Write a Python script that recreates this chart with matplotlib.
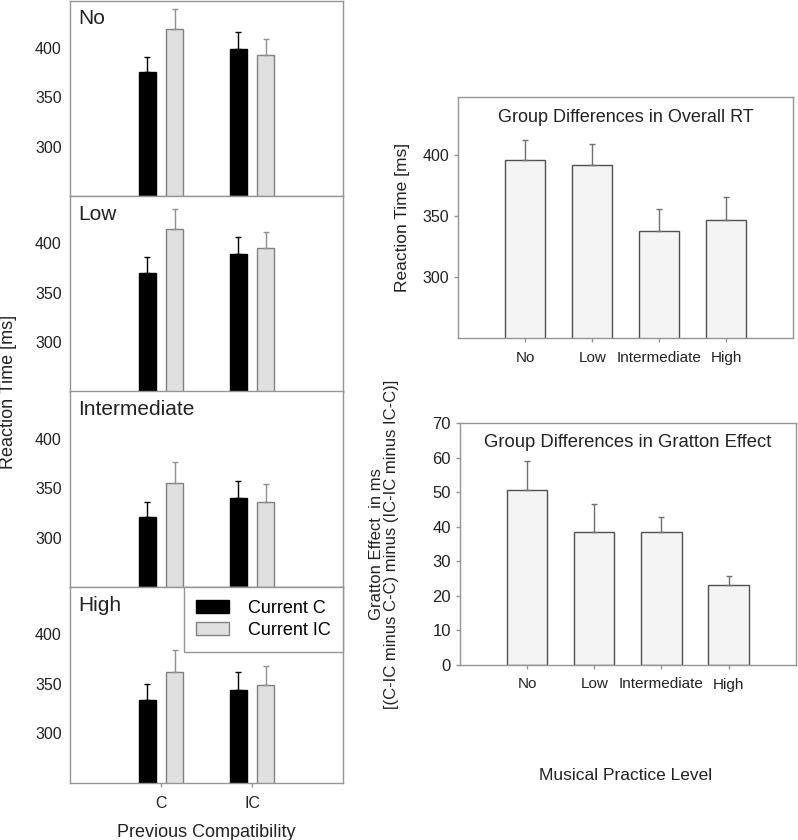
import numpy as np
import matplotlib
matplotlib.use("Agg")
import matplotlib.pyplot as plt

plt.rcParams["font.family"] = ["Liberation Sans", "DejaVu Sans"]

# Left: RT by previous compatibility (C, IC) for each practice group
GROUPS = ["No", "Low", "Intermediate", "High"]
PREV = ["C", "IC"]
CUR_C = [[375, 399], [370, 389], [321, 340], [333.5, 343.5]]
CUR_C_ERR = [[15, 16.5], [15.5, 17.5], [15, 17.5], [16, 18.5]]
CUR_IC = [[419, 392], [414, 394.5], [355.5, 336], [362, 349]]
CUR_IC_ERR = [[19.5, 17], [20.5, 17], [21, 18], [22, 18.5]]

# Right: overall RT and Gratton effect per group
OVERALL_RT = [396.5, 392, 338, 347]
OVERALL_ERR = [16.5, 17.5, 18, 19]
GRATTON = [50.5, 38.4, 38.6, 23.1]
GRATTON_ERR = [8.5, 8.3, 4.1, 2.5]

W, H = 798, 840
SPINE = "#959595"
TXT = "#222222"


def px_axes(fig, x0, y0, x1, y1):
    # pixel box (top-left origin) -> figure axes
    return fig.add_axes([x0 / W, 1 - y1 / H, (x1 - x0) / W, (y1 - y0) / H])


def style(ax, tick_fs=11.5):
    for s in ax.spines.values():
        s.set_color(SPINE)
        s.set_linewidth(1.0)
    ax.tick_params(axis="both", colors=SPINE, labelcolor=TXT, length=3,
                   width=1, direction="out", labelsize=tick_fs)


def up_err(err):
    return [np.zeros(len(err)), err]


fig = plt.figure(figsize=(W / 100, H / 100), dpi=100)

panel_h = 195.5
x = np.arange(1, len(PREV) + 1)
off, bw = 0.15, 0.185
for i, g in enumerate(GROUPS):
    top = i * panel_h + 0.5
    ax = px_axes(fig, 70, top, 343, top + panel_h)
    ax.bar(x - off, CUR_C[i], bw, color="black", edgecolor="black", lw=1,
           yerr=up_err(CUR_C_ERR[i]),
           error_kw=dict(ecolor="black", elinewidth=1, capsize=2.5, capthick=1),
           label="Current C", zorder=2)
    ax.bar(x + off, CUR_IC[i], bw, color="#e0e0e0", edgecolor="#808080", lw=1,
           yerr=up_err(CUR_IC_ERR[i]),
           error_kw=dict(ecolor="#909090", elinewidth=1, capsize=2.5, capthick=1),
           label="Current IC", zorder=2)
    ax.set_xlim(0, 3)
    ax.set_ylim(250, 447.5)
    ax.set_yticks([300, 350, 400])
    ax.set_xticks(x)
    style(ax)
    ax.tick_params(axis="y", length=0, pad=6)
    ax.text(0.03, 0.955, g, transform=ax.transAxes, fontsize=15, color=TXT,
            va="top", ha="left")
    if i < len(GROUPS) - 1:
        ax.set_xticklabels([])
    else:
        ax.set_xticklabels(PREV)
        ax.tick_params(axis="x", pad=7)
        ax.set_xlabel("Previous Compatibility", fontsize=13, color=TXT, labelpad=9)
        leg = ax.legend(loc="upper right", borderaxespad=0, fontsize=13,
                        fancybox=False, edgecolor=SPINE, framealpha=1,
                        handlelength=1.8, handleheight=0.75, borderpad=0.7,
                        labelspacing=0.3, handletextpad=1.05)
        leg.get_frame().set_linewidth(1.0)

fig.text(9 / W, 1 - 391.5 / H, "Reaction Time [ms]", rotation=90, fontsize=13,
         color=TXT, ha="center", va="center")

# Overall RT
xg = np.arange(1, len(GROUPS) + 1)
ax1 = px_axes(fig, 458.3, 97, 793.3, 338.3)
ax1.bar(xg, OVERALL_RT, 0.6, color="#f4f4f4", edgecolor="#505050", lw=1,
        yerr=up_err(OVERALL_ERR),
        error_kw=dict(ecolor="#707070", elinewidth=1, capsize=2.5, capthick=1))
ax1.set_xlim(0, 5)
ax1.set_ylim(250, 448)
ax1.set_yticks([300, 350, 400])
ax1.set_xticks(xg)
ax1.set_xticklabels(GROUPS)
style(ax1)
ax1.tick_params(axis="x", labelsize=11, pad=6)
ax1.set_ylabel("Reaction Time [ms]", fontsize=12.5, color=TXT, labelpad=9)
ax1.text(0.5, 0.95, "Group Differences in Overall RT", transform=ax1.transAxes,
         fontsize=13, color=TXT, ha="center", va="top")

# Gratton effect
ax2 = px_axes(fig, 460, 423, 795.7, 665)
ax2.bar(xg, GRATTON, 0.6, color="#f4f4f4", edgecolor="#505050", lw=1,
        yerr=up_err(GRATTON_ERR),
        error_kw=dict(ecolor="#707070", elinewidth=1, capsize=2.5, capthick=1))
ax2.set_xlim(0, 5)
ax2.set_ylim(0, 70)
ax2.set_yticks(np.arange(0, 71, 10))
ax2.set_xticks(xg)
ax2.set_xticklabels(GROUPS)
style(ax2)
ax2.tick_params(axis="x", labelsize=11, pad=6)
ax2.tick_params(axis="y", labelsize=12)
ax2.set_ylabel("Gratton Effect  in ms\n[(C-IC minus C-C) minus (IC-IC minus IC-C)]",
               fontsize=12, color=TXT, labelpad=24, linespacing=1.0)
ax2.text(0.5, 0.955, "Group Differences in Gratton Effect", transform=ax2.transAxes,
         fontsize=13.3, color=TXT, ha="center", va="top")
fig.text(626 / W, 1 - 775 / H, "Musical Practice Level", fontsize=12.5,
         color=TXT, ha="center", va="center")

fig.savefig("out.png", dpi=100)
